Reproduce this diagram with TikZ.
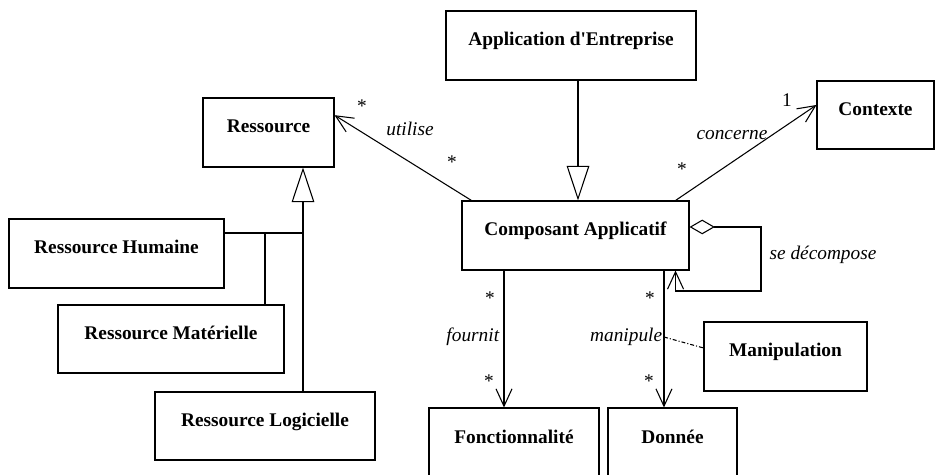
\documentclass[tikz,border=0pt]{standalone}
\usepackage{fontspec}
\setmainfont{Liberation Serif}
\usetikzlibrary{positioning, calc, arrows.meta}

\begin{document}
\begin{tikzpicture}
		[x=0.75pt, y=-0.75pt, line width=0.8pt,
		 font=\fontsize{14.5}{17}\selectfont,
		 cls/.style 2 args = {draw, rectangle, font=\fontsize{14.5}{17}\selectfont\bfseries, text height=8pt, text depth=8pt, minimum width=#1*0.75pt, minimum height=#2*0.75pt},
		 role/.style = {font=\fontsize{14.5}{17}\selectfont\itshape, inner sep=1pt},
		 mult/.style = {inner sep=1pt},
		 assoc/.style = {-{Straight Barb[length=13pt, width=12pt]}},
		 gen/.style = {-{Triangle[open, length=26pt, width=17pt]}}]
		\useasboundingbox (0,0) rectangle (936,475);
		\node[cls={250}{69}] (appent) at (571,45.5) {Application d\textquotesingle Entreprise};
		\node[cls={131}{69}] (ressource) at (268.5,132.5) {Ressource};
		\node[cls={117}{68}] (contexte) at (875.5,115) {Contexte};
		\node[cls={227}{69}] (composant) at (575.5,235.5) {Composant Applicatif};
		\node[cls={215}{69}] (rhum) at (116.5,253.5) {Ressource Humaine};
		\node[cls={226}{68}] (rmat) at (171,339) {Ressource Matérielle};
		\node[cls={220}{68}] (rlog) at (265,426) {Ressource Logicielle};
		\node[cls={163}{69}] (manip) at (785.5,356.5) {Manipulation};
		\node[cls={170}{70}] (fonct) at (514,443) {Fonctionnalité};
		\node[cls={129}{70}] (donnee) at (672.5,443) {Donnée};

		% heritage
		\coordinate (resjoin) at (303,233);
		\coordinate (matjoin) at (265,233);
		\draw[gen] (resjoin) -- (resjoin |- ressource.south);
		\draw (rhum.east |- resjoin) -- (resjoin) -- (resjoin |- rlog.north);
		\draw (matjoin) -- (matjoin |- rmat.north);
		\draw[gen] ([xshift=5.25pt]appent.south) -- ([xshift=5.25pt]appent.south |- composant.north);

		% associations
		\draw[assoc] ([xshift=7.5pt]composant.north west) -- ([yshift=13pt]ressource.east);
		\node[mult] (mres) at (362,106) {*};
		\node[role] (lutil) at (410,129) {utilise};
		\node[mult] (mutil) at (452,162) {*};

		\draw[assoc] ([xshift=-10.5pt]composant.north east) -- ([yshift=7.5pt]contexte.west);
		\node[mult] (mctx) at (787,100) {1};
		\node[role] (lconc) at (732,135) {concerne};
		\node[mult] (mconc) at (682,169) {*};

		\coordinate (loopcorner) at (761,291);
		\draw[{Diamond[open, length=19pt, width=11pt]}-{Straight Barb[length=13pt, width=12pt]}] ([yshift=6.4pt]composant.east) -| (loopcorner) -| ([xshift=-10.5pt]composant.south east);
		\node[role] (ldecomp) at (823,255) {se décompose};

		\coordinate (fournitx) at ([xshift=-7.5pt]fonct.north);
		\draw[assoc] (fournitx |- composant.south) -- (fournitx);
		\node[mult] (mf1) at (490,298) {*};
		\node[role, anchor=east] (lfourn) at (501,337) {fournit};
		\node[mult] (mf2) at (489,381) {*};

		\coordinate (manipx) at ([xshift=-6.4pt]donnee.north);
		\draw[assoc] (manipx |- composant.south) -- (manipx);
		\node[mult] (mm1) at (650,298) {*};
		\node[role, anchor=east] (lmanip) at (664,337) {manipule};
		\node[mult] (mm2) at (649,381) {*};
		\draw[dash pattern=on 3pt off 1.5pt on 0.8pt off 1.5pt, line width=0.8pt] (lmanip.east) -- ([yshift=6.4pt]manip.west);
	\end{tikzpicture}
\end{document}
